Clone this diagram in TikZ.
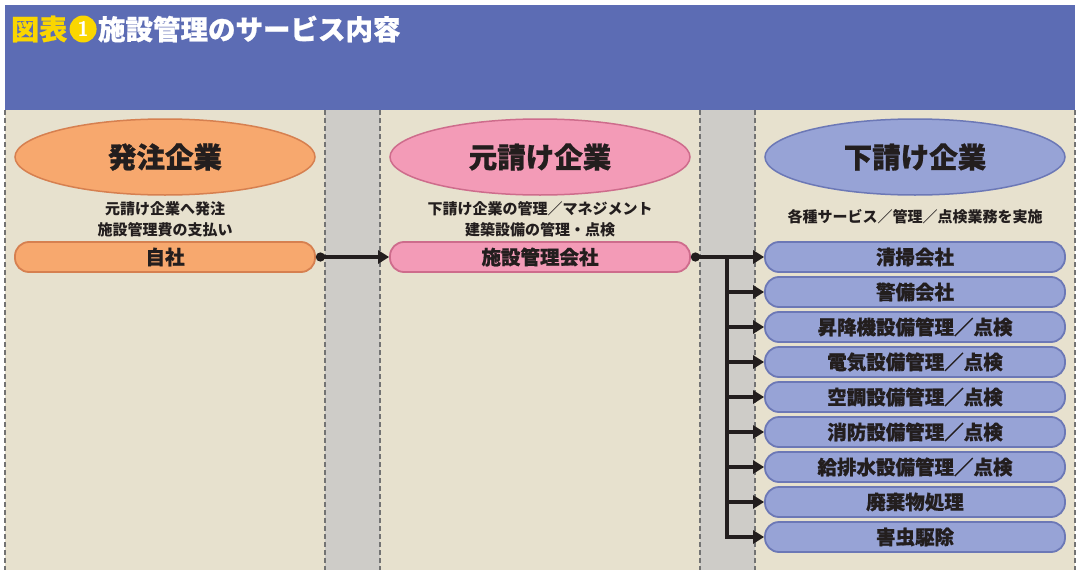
\documentclass[tikz,border=0pt]{standalone}
\usepackage{fontspec}
\newfontfamily\jp{Noto Sans CJK JP}
\newfontfamily\jpheavy{Noto Sans CJK JP}[BoldFeatures={FakeBold=0.8}]
\usetikzlibrary{arrows.meta, positioning, shapes.geometric}
\definecolor{headblue}{RGB}{92,108,180}
\definecolor{titleyellow}{RGB}{250,214,0}
\definecolor{paper}{RGB}{231,225,206}
\definecolor{gap}{RGB}{206,204,200}
\definecolor{ordfill}{RGB}{247,168,110}
\definecolor{ordline}{RGB}{214,128,80}
\definecolor{primefill}{RGB}{243,155,183}
\definecolor{primeline}{RGB}{206,108,140}
\definecolor{subfill}{RGB}{151,163,214}
\definecolor{subline}{RGB}{108,120,182}
\definecolor{ink}{RGB}{35,30,30}

\begin{document}
\begin{tikzpicture}[x=1pt,y=-1pt,font=\jp\bfseries,text=ink]
    \tikzstyle{company}=[ellipse,minimum width=300pt,minimum height=76pt,line width=1.5pt,font=\jpheavy\bfseries\fontsize{28.5}{28.5}\selectfont]
    \tikzstyle{bar}=[rectangle,rounded corners=14pt,minimum width=300pt,minimum height=30pt,inner sep=0pt,line width=1.8pt,font=\jpheavy\bfseries\fontsize{19.5}{19.5}\selectfont]
    \tikzstyle{note}=[align=center,inner sep=0pt,font=\jp\bfseries\fontsize{15}{21}\selectfont]
    \tikzstyle{link}=[line width=3.5pt,draw=ink,{Circle[length=9pt]}-{Triangle[length=11pt,width=13pt]}]
    \tikzstyle{branch}=[line width=3.5pt,draw=ink,line join=miter,-{Triangle[length=11pt,width=13pt]}]
    \tikzstyle{lane}=[dash pattern=on 5pt off 3pt,line width=1.2pt,draw=black!55]
    \useasboundingbox (0,0) rectangle (1080,570);

    % Draw the background
    \fill[white] (0,0) rectangle (1080,570);
    \fill[headblue] (5,5) rectangle (1075,110);
    \fill[paper] (5,110) rectangle (1075,570);
    \fill[gap] (325,110) rectangle (380,570);
    \fill[gap] (700,110) rectangle (755,570);
    \foreach \x in {5,325,380,700,755,1075}
        \draw[lane] (\x,110) -- (\x,570);

    % Title
    \node[anchor=west,inner sep=0pt,text=titleyellow,font=\jpheavy\bfseries\fontsize{28}{28}\selectfont] (fig) at (11,29) {図表};
    \node[circle,fill=titleyellow,text=white,minimum size=27pt,inner sep=0pt,right=2pt of fig,font=\sffamily\bfseries\fontsize{21}{21}\selectfont] (num) {1};
    \node[anchor=west,inner sep=0pt,text=white,right=1pt of num,font=\jpheavy\bfseries\fontsize{27.5}{27.5}\selectfont] (title) {施設管理のサービス内容};

    % Draw the company ellipses
    \node[company,fill=ordfill,draw=ordline] (orderer) at (165,157) {発注企業};
    \node[company,fill=primefill,draw=primeline] (prime) at (540,157) {元請け企業};
    \node[company,fill=subfill,draw=subline] (subcon) at (915,157) {下請け企業};

    % Role notes
    \node[note] (orderer-note) at (165,219) {元請け企業へ発注\\施設管理費の支払い};
    \node[note] (prime-note) at (540,219) {下請け企業の管理／マネジメント\\建築設備の管理・点検};
    \node[note] (subcon-note) at (915,217) {各種サービス／管理／点検業務を実施};

    % Draw the company bars
    \node[bar,fill=ordfill,draw=ordline] (own) at (165,257) {自社};
    \node[bar,fill=primefill,draw=primeline] (mgmt) at (540,257) {施設管理会社};
    \foreach \name [count=\i] in {清掃会社,警備会社,昇降機設備管理／点検,電気設備管理／点検,空調設備管理／点検,消防設備管理／点検,給排水設備管理／点検,廃棄物処理,害虫駆除}
        \node[bar,fill=subfill,draw=subline] (sub-\i) at (915,222+35*\i) {\name};

    % Connect the bars
    \draw[link] (own.east) -- (mgmt.west);
    \draw[link] (mgmt.east) -- (sub-1.west);
    \coordinate (split) at (727,257);
    \foreach \i in {2,...,9}
        \draw[branch] (split) |- (sub-\i.west);
\end{tikzpicture}
\end{document}
